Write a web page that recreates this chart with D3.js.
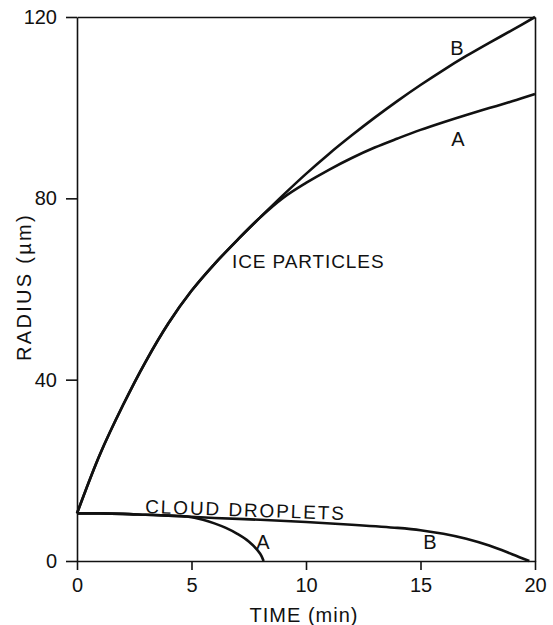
<!DOCTYPE html>
<html>
<head>
<meta charset="utf-8">
<script src="https://cdn.jsdelivr.net/npm/d3@7"></script>
<style>
  body { margin: 0; background: #fff; }
  svg text { font-family: "Liberation Sans", Arial, Helvetica, sans-serif; fill: #111; }
</style>
</head>
<body>
<div id="chart"></div>
<script>
// ice particle radius (um) vs time (min), curves A and B share the early part
const iceTime = [0, 1, 2, 3, 4, 5, 6, 7, 8, 9, 10, 11, 12, 13, 14, 15, 16, 17, 18, 19, 20];
const iceA = [10.5, 23.5, 34.3, 44, 52.5, 59.6, 65.5, 70.8, 75.8, 80.1, 83.4, 86.3, 88.9, 91.2, 93.2, 95.1, 96.8, 98.4, 99.9, 101.4, 103];
const iceB = [10.5, 23.5, 34.3, 44, 52.5, 59.6, 65.5, 70.8, 75.8, 80.7, 85.4, 89.8, 93.9, 97.8, 101.5, 105, 108.3, 111.4, 114.3, 117.1, 120];

// cloud droplet radius (um)
const cloudATime = [0, 1, 2, 3, 4, 4.8, 5.5, 6, 6.5, 7, 7.5, 8, 8.15];
const cloudA = [10.5, 10.5, 10.4, 10.2, 10, 9.8, 9.1, 8.3, 7.3, 6.0, 4.3, 1.6, 0];
const cloudBTime = [0, 1, 2, 3, 4, 4.8, 6, 8, 10, 12, 14, 15, 16, 17, 18, 19, 19.75];
const cloudB = [10.5, 10.5, 10.4, 10.2, 10, 9.8, 9.5, 9.1, 8.6, 8.0, 7.3, 6.8, 6.0, 4.9, 3.4, 1.5, 0];

const xTicks = [0, 5, 10, 15, 20];
const yTicks = [0, 40, 80, 120];

const width = 553, height = 625;
const margin = { top: 17, right: 18, bottom: 64, left: 77 };

const svg = d3.select("#chart").append("svg")
    .attr("width", width)
    .attr("height", height);

const x = d3.scaleLinear().domain([0, 20]).range([margin.left, width - margin.right]);
const y = d3.scaleLinear().domain([0, 120]).range([height - margin.bottom, margin.top]);

// axes
const axisStyle = g => {
    g.select(".domain").attr("stroke", "#111").attr("stroke-width", 1.6);
    g.selectAll(".tick line").attr("stroke", "#111").attr("stroke-width", 1.6);
    g.selectAll(".tick text").attr("fill", "#111").style("font-size", "20px")
        .style("font-family", "'Liberation Sans', Arial, sans-serif");
};

svg.append("g")
    .attr("transform", `translate(${margin.left},0)`)
    .call(d3.axisLeft(y).tickValues(yTicks).tickSize(11).tickSizeOuter(0).tickPadding(9))
    .call(axisStyle);

svg.append("g")
    .attr("transform", `translate(0,${y(0)})`)
    .call(d3.axisBottom(x).tickValues(xTicks).tickSize(9).tickSizeOuter(0).tickPadding(8))
    .call(axisStyle);

svg.append("g")
    .attr("transform", `translate(0,${y(120)})`)
    .call(d3.axisTop(x).tickValues([]).tickSizeOuter(0))
    .call(axisStyle);

svg.append("g")
    .attr("transform", `translate(${x(20)},0)`)
    .call(d3.axisRight(y).tickValues([]).tickSizeOuter(0))
    .call(axisStyle);

// curves
const line = d3.line()
    .x(d => x(d[0]))
    .y(d => y(d[1]))
    .curve(d3.curveCatmullRom.alpha(0.5));

const series = [
    [iceTime, iceA],
    [iceTime, iceB],
    [cloudATime, cloudA],
    [cloudBTime, cloudB]
];

svg.append("g").selectAll("path")
    .data(series)
    .join("path")
    .attr("d", s => line(s[0].map((t, i) => [t, s[1][i]])))
    .attr("fill", "none")
    .attr("stroke", "#111")
    .attr("stroke-width", 2.6)
    .attr("stroke-linejoin", "round");

// axis titles
svg.append("text")
    .attr("transform", "translate(31,287) rotate(-90)")
    .attr("text-anchor", "middle")
    .style("font-size", "20px")
    .style("letter-spacing", "2.3px")
    .text("RADIUS (\u00b5m)");

svg.append("text")
    .attr("x", 304)
    .attr("y", 622)
    .attr("text-anchor", "middle")
    .style("font-size", "20px")
    .style("letter-spacing", "1px")
    .text("TIME (min)");

// in-plot labels
svg.append("text")
    .attr("x", 232)
    .attr("y", 268)
    .style("font-size", "19px")
    .style("letter-spacing", "0.9px")
    .text("ICE PARTICLES");

svg.append("text")
    .attr("transform", "translate(145,513) rotate(2)")
    .style("font-size", "19px")
    .style("letter-spacing", "1.9px")
    .text("CLOUD DROPLETS");

const curveLabels = [
    { t: "B", x: 457, y: 55 },
    { t: "A", x: 458, y: 146 },
    { t: "A", x: 263, y: 549 },
    { t: "B", x: 430, y: 549 }
];

svg.append("g").selectAll("text")
    .data(curveLabels)
    .join("text")
    .attr("x", d => d.x)
    .attr("y", d => d.y)
    .attr("text-anchor", "middle")
    .style("font-size", "20px")
    .text(d => d.t);
</script>
</body>
</html>
